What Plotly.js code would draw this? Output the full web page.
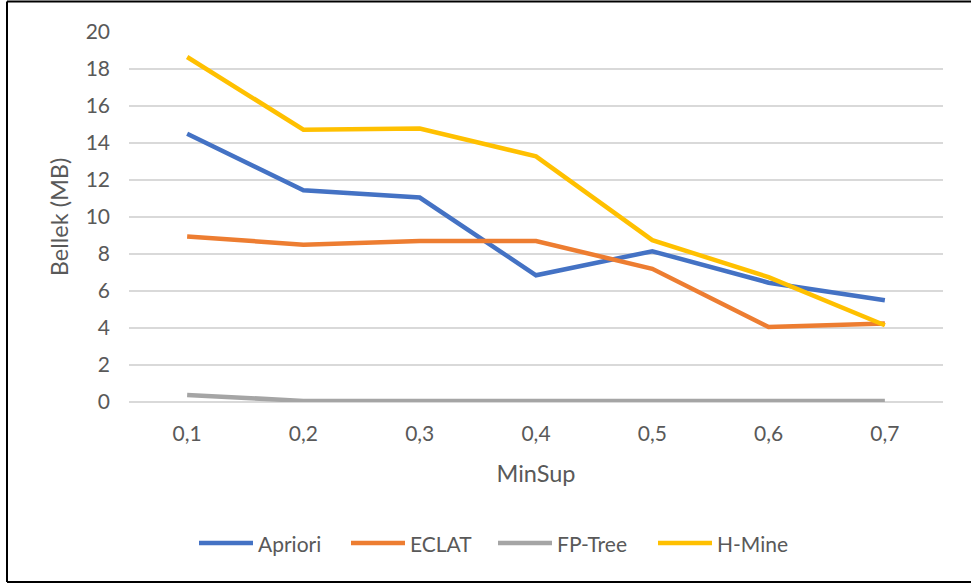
<!DOCTYPE html>
<html>
<head>
<meta charset="utf-8">
<script src="https://cdn.plot.ly/plotly-3.0.1.min.js"></script>
<style>
  html, body { margin: 0; padding: 0; background: #ffffff; }
  #chart { width: 971px; height: 585px; }
</style>
</head>
<body>
<div id="chart"></div>
<script>
// Minimum support thresholds (x axis categories)
const minSup = ['0,1', '0,2', '0,3', '0,4', '0,5', '0,6', '0,7'];

// Memory usage in MB per algorithm
const apriori = [14.5, 11.45, 11.05, 6.85, 8.15, 6.45, 5.5];
const eclat   = [8.95, 8.5, 8.7, 8.7, 7.2, 4.05, 4.25];
const fpTree  = [0.38, 0.06, 0.06, 0.06, 0.06, 0.06, 0.06];
const hMine   = [18.65, 14.72, 14.78, 13.28, 8.75, 6.75, 4.15];

const yTicks = [0, 2, 4, 6, 8, 10, 12, 14, 16, 18, 20];

const seriesNames  = ['Apriori', 'ECLAT', 'FP-Tree', 'H-Mine'];
const seriesValues = [apriori, eclat, fpTree, hMine];
const seriesColors = ['#4472C4', '#ED7D31', '#A5A5A5', '#FFC000'];

const fontFamily = 'Lato, "Open Sans", sans-serif';
const textColor = '#595959';

// Plot area in pixels, used to place the frame and the legend row
const W = 971, H = 585;
const M = { l: 129, r: 28, t: 32, b: 183 };
const plotW = W - M.l - M.r;
const plotH = H - M.t - M.b;
const px = v => (v - M.l) / plotW;          // pixel x -> paper x
const py = v => (H - M.b - v) / plotH;      // pixel y -> paper y

const traces = seriesNames.map((name, i) => ({
  type: 'scatter',
  mode: 'lines',
  name: name,
  x: minSup,
  y: seriesValues[i],
  line: { color: seriesColors[i], width: 4.5, shape: 'linear' },
  showlegend: false,
  hoverinfo: 'x+y+name'
}));

// Legend row below the axis title: a long swatch followed by the series name
const legendY = 543;
const legendSwatchStart = [199, 351, 498, 658];
const swatchLen = 54;
const legendShapes = seriesNames.map((name, i) => ({
  type: 'line', xref: 'paper', yref: 'paper',
  x0: px(legendSwatchStart[i]), x1: px(legendSwatchStart[i] + swatchLen),
  y0: py(legendY), y1: py(legendY),
  line: { color: seriesColors[i], width: 4.5 }
}));
const legendLabels = seriesNames.map((name, i) => ({
  xref: 'paper', yref: 'paper',
  x: px(legendSwatchStart[i] + swatchLen + 4), y: py(legendY),
  xanchor: 'left', yanchor: 'middle',
  text: name, showarrow: false,
  borderpad: 0,
  font: { family: fontFamily, color: textColor, size: 21 }
}));

const frame = [
  { type: 'line', xref: 'paper', yref: 'paper', x0: px(7), x1: px(7), y0: py(1.5), y1: py(582),
    line: { color: '#000000', width: 2 } },
  { type: 'line', xref: 'paper', yref: 'paper', x0: px(7), x1: px(980), y0: py(1.5), y1: py(1.5),
    line: { color: '#000000', width: 2 } },
  { type: 'line', xref: 'paper', yref: 'paper', x0: px(7), x1: px(980), y0: py(582), y1: py(582),
    line: { color: '#000000', width: 2 } }
];

const layout = {
  width: W,
  height: H,
  margin: M,
  paper_bgcolor: '#ffffff',
  plot_bgcolor: '#ffffff',
  font: { family: fontFamily, color: textColor, size: 21 },
  showlegend: false,
  xaxis: {
    type: 'category',
    categoryorder: 'array',
    categoryarray: minSup,
    range: [-0.5, 6.5],
    showgrid: false,
    zeroline: false,
    showline: false,
    ticks: '',
    ticklabelstandoff: 17,
    tickfont: { family: fontFamily, color: textColor, size: 21 },
    title: {
      text: 'MinSup',
      font: { family: fontFamily, color: textColor, size: 23.5 },
      standoff: 21
    }
  },
  yaxis: {
    range: [0, 20],
    tickvals: yTicks,
    ticktext: yTicks.map(String),
    showgrid: true,
    gridcolor: '#d9d9d9',
    gridwidth: 1.3,
    zeroline: true,
    zerolinecolor: '#d9d9d9',
    zerolinewidth: 1.3,
    showline: false,
    ticks: '',
    ticklabelstandoff: 18,
    tickfont: { family: fontFamily, color: textColor, size: 21 },
    title: {
      text: 'Bellek (MB)',
      font: { family: fontFamily, color: textColor, size: 23.5 },
      standoff: 10
    }
  },
  shapes: frame.concat(legendShapes),
  annotations: legendLabels
};

Plotly.newPlot('chart', traces, layout, { displayModeBar: false, staticPlot: true });
</script>
</body>
</html>
